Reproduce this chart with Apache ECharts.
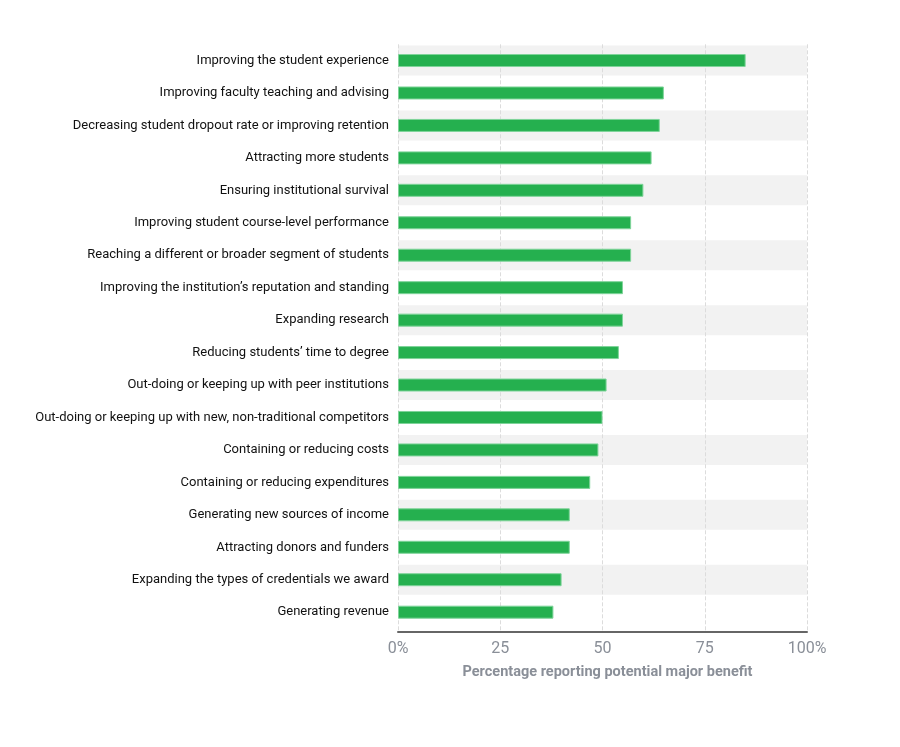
<!DOCTYPE html>
<html><head><meta charset="utf-8">
<script src="https://cdn.jsdelivr.net/npm/echarts@6/dist/echarts.min.js"></script>
<style>html,body{margin:0;padding:0;background:#fff}#c{width:900px;height:747px}</style>
</head><body><div id="c"></div>
<script>
const categories = [
  "Improving the student experience",
  "Improving faculty teaching and advising",
  "Decreasing student dropout rate or improving retention",
  "Attracting more students",
  "Ensuring institutional survival",
  "Improving student course-level performance",
  "Reaching a different or broader segment of students",
  "Improving the institution\u2019s reputation and standing",
  "Expanding research",
  "Reducing students\u2019 time to degree",
  "Out-doing or keeping up with peer institutions",
  "Out-doing or keeping up with new, non-traditional competitors",
  "Containing or reducing costs",
  "Containing or reducing expenditures",
  "Generating new sources of income",
  "Attracting donors and funders",
  "Expanding the types of credentials we award",
  "Generating revenue"
];
const values = [85, 65, 64, 62, 60, 57, 57, 55, 55, 54, 51, 50, 49, 47, 42, 42, 40, 38];
const xTicks = [0, 25, 50, 75, 100];
const axisTitle = "Percentage reporting potential major benefit";

// alternating row shading, one band per category (every other row)
const bandValues = categories.map((c, i) => (i % 2 === 0 ? 100 : '-'));

const chart = echarts.init(document.getElementById('c'), null, {renderer: 'canvas'});
chart.setOption({
  animation: false,
  grid: [
    {left: 398, right: 93, top: 44.3, bottom: 118.6, containLabel: false},
    {left: 398, right: 93, top: 44.3, bottom: 115, containLabel: false}
  ],
  xAxis: [
    {type: 'value', gridIndex: 0, min: 0, max: 100, interval: 25, show: false},
    {
      type: 'value', gridIndex: 1, min: 0, max: 100, interval: 25, z: 1.5,
      name: axisTitle, nameLocation: 'middle', nameGap: 33,
      nameTextStyle: {color: '#8a8f98', fontSize: 14.5, fontWeight: 'bold', fontFamily: 'Roboto', padding: [0, 0, 0, 10]},
      axisLine: {show: true, lineStyle: {color: '#666', width: 2}},
      axisTick: {show: false},
      axisLabel: {color: '#8a8f98', fontSize: 16, fontFamily: 'Roboto', margin: 9,
        formatter: v => (v === xTicks[0] || v === xTicks[xTicks.length - 1]) ? v + '%' : String(v)},
      splitLine: {show: true, lineStyle: {color: '#dcdcdc', type: 'dashed', width: 1}}
    }
  ],
  yAxis: [
    {
      type: 'category', gridIndex: 0, data: categories, inverse: true,
      axisLine: {show: false}, axisTick: {show: false},
      axisLabel: {color: '#111', fontSize: 13, fontFamily: 'Roboto', margin: 9}
    },
    {type: 'category', gridIndex: 0, data: categories, inverse: true, show: false},
    {type: 'value', gridIndex: 1, show: false}
  ],
  series: [
    {
      type: 'bar', xAxisIndex: 0, yAxisIndex: 1, data: bandValues, barWidth: 30, z: 1,
      itemStyle: {color: '#f2f2f2'}, silent: true
    },
    {
      type: 'bar', xAxisIndex: 0, yAxisIndex: 0, data: values, barWidth: 13, z: 2,
      itemStyle: {color: '#25b04f', borderColor: '#7fd49a', borderWidth: 1}
    }
  ]
});
</script></body></html>
